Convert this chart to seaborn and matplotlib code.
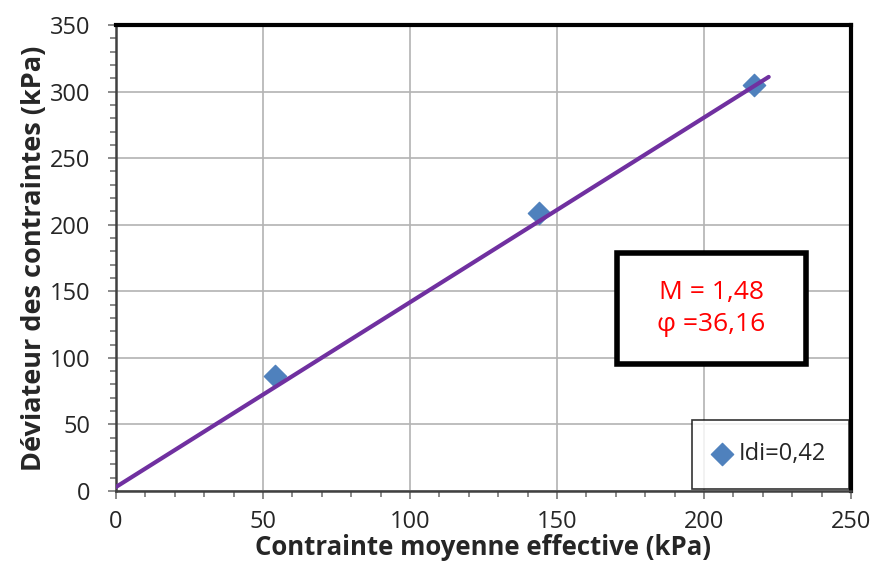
import pandas as pd
import seaborn as sns
import matplotlib.pyplot as plt
from matplotlib.patches import Rectangle
from matplotlib.ticker import MultipleLocator

# Data
p_eff = [54, 144, 217]          # contrainte moyenne effective (kPa)
q_dev = [86, 209, 305]          # deviateur des contraintes (kPa)
line_p = [0, 222]               # droite de rupture
line_q = [3, 311]
series_label = 'Idi=0,42'
box_text = 'M = 1,48\nφ =36,16'

df_pts = pd.DataFrame({'p': p_eff, 'q': q_dev})
df_line = pd.DataFrame({'p': line_p, 'q': line_q})

sns.set_style('white')
plt.rcParams['font.family'] = ['Open Sans', 'DejaVu Sans']

fig = plt.figure(figsize=(8.74, 5.63), dpi=100)
ax = fig.add_axes([0.1327, 0.1279, 0.8410, 0.8277])

ax.grid(True, which='major', color='#b3b3b3', linewidth=1.2)
ax.set_axisbelow(True)

sns.lineplot(data=df_line, x='p', y='q', ax=ax, color='#7030a0',
             linewidth=3, zorder=3, legend=False)
sns.scatterplot(data=df_pts, x='p', y='q', ax=ax, marker='D', s=130,
                color='#4f81bd', edgecolor='#4f81bd', zorder=2,
                label=series_label)

ax.set_xlim(0, 250)
ax.set_ylim(0, 350)
ax.xaxis.set_major_locator(MultipleLocator(50))
ax.xaxis.set_minor_locator(MultipleLocator(10))
ax.yaxis.set_major_locator(MultipleLocator(50))
ax.yaxis.set_minor_locator(MultipleLocator(10))
ax.tick_params(which='both', direction='out', color='#808080', width=1.3,
               labelsize=17, bottom=True, left=True)
ax.tick_params(which='major', length=5.5)
ax.tick_params(which='minor', length=4.5)
ax.tick_params(axis='x', which='major', pad=8)
ax.tick_params(axis='y', which='major', pad=13)

for side in ['left', 'bottom']:
    ax.spines[side].set_color('#404040')
    ax.spines[side].set_linewidth(1.8)
for side in ['top', 'right']:
    ax.spines[side].set_color('black')
    ax.spines[side].set_linewidth(3)

ax.set_xlabel('Contrainte moyenne effective (kPa)', fontsize=18.5,
              fontweight='bold', labelpad=0)
ax.set_ylabel('Déviateur des contraintes (kPa)', fontsize=19.5,
              fontweight='bold', labelpad=2)

# annotation box with M and phi
ax.add_patch(Rectangle((0.6816, 0.2725), 0.2571, 0.2382, transform=ax.transAxes,
                       facecolor='white', edgecolor='black', linewidth=4,
                       zorder=5))
ax.text(0.8101, 0.3916, box_text, transform=ax.transAxes, ha='center',
        va='center', color='red', fontsize=19, linespacing=1.35, zorder=6)

leg = ax.legend(loc='lower right', fontsize=17, frameon=True,
                fancybox=False, borderpad=0.95, handlelength=0.7,
                handletextpad=0.35, borderaxespad=0.1, markerscale=1.0)
leg.get_frame().set_edgecolor('black')
leg.get_frame().set_linewidth(1.2)

fig.savefig('out.png', dpi=100)
